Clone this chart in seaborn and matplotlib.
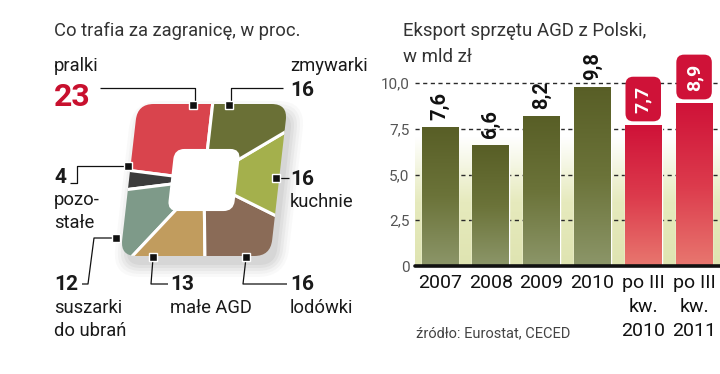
import numpy as np
import pandas as pd
import matplotlib
matplotlib.use('Agg')
import matplotlib.pyplot as plt
import seaborn as sns
from matplotlib.patches import FancyBboxPatch
from matplotlib.transforms import Affine2D
from matplotlib.colors import LinearSegmentedColormap

# ---------------- data ----------------
share_labels = ['pralki', 'pozo-\nstałe', 'suszarki\ndo ubrań', 'małe AGD', 'lodówki', 'kuchnie', 'zmywarki']
share_values = [23, 4, 12, 13, 16, 16, 16]
share_colors = ['#d9444d', '#3b3b3b', '#7e9a89', '#c19c5e', '#8a6b57', '#a4b04c', '#6a7036']

years = ['2007', '2008', '2009', '2010', 'po III\nkw.\n2010', 'po III\nkw.\n2011']
export_values = [7.6, 6.6, 8.2, 9.8, 7.7, 8.9]
value_labels = ['7,6', '6,6', '8,2', '9,8', '7,7', '8,9']
bar_groups = ['olive', 'olive', 'olive', 'olive', 'red', 'red']
yticks = [0, 2.5, 5, 7.5, 10]
ytick_labels = ['0', '2,5', '5,0', '7,5', '10,0']

sns.set_theme(style='white')
plt.rcParams['font.family'] = ['Roboto', 'DejaVu Sans']

W, H = 720, 374
fig = plt.figure(figsize=(7.2, 3.74), dpi=100)

def Y(y):
    return H - y

# ---------------- overlay axes (pixel coords) ----------------
ov = fig.add_axes([0, 0, 1, 1])
cx, cy = 204, Y(180)
skewT = Affine2D().translate(-cx, -cy).skew_deg(6.5, 0).translate(cx, cy) + ov.transData

# shadow
for i, (g, a) in enumerate([(12, 0.03), (9, 0.04), (6, 0.05), (3, 0.06), (0, 0.07)]):
    sh = FancyBboxPatch((cx - 75 - g + 6, cy - 76 - g - 9), 150 + 2 * g, 152 + 2 * g,
                        boxstyle='round,pad=0,rounding_size=%d' % (16 + g),
                        transform=skewT, facecolor='#555555', edgecolor='none', alpha=a, zorder=1)
    ov.add_patch(sh)

wedges, _ = ov.pie(share_values, colors=share_colors, startangle=90, counterclock=True,
                   center=(cx, cy), radius=140,
                   wedgeprops=dict(edgecolor='white', linewidth=2.2))
outer = FancyBboxPatch((cx - 75, cy - 76), 150, 152, boxstyle='round,pad=0,rounding_size=16',
                       transform=skewT, facecolor='none', edgecolor='none')
ov.add_patch(outer)
for w in wedges:
    w.set_transform(skewT)
    w.set_clip_on(True)
    w.set_clip_path(outer)
    w.set_zorder(2)

hole = FancyBboxPatch((cx - 32, cy - 30), 64, 60, boxstyle='round,pad=0,rounding_size=9',
                      transform=skewT, facecolor='white', edgecolor='white', linewidth=1.5, zorder=3)
ov.add_patch(hole)

ov.set_xlim(0, W)
ov.set_ylim(0, H)
ov.set_aspect('auto')
ov.axis('off')

# leader lines + markers (pixel coordinates, y from top)
leaders = [
    ([(100, 88), (195, 88), (195, 104)], (193, 105)),
    ([(283, 88), (231, 88), (231, 104)], (229, 105)),
    ([(70, 183), (77, 183), (77, 166), (126, 166)], (128, 166)),
    ([(278, 178), (289, 178)], (276, 178)),
    ([(82, 284), (88, 284), (94, 238), (114, 238)], (116, 238)),
    ([(153, 258), (151, 284), (168, 284)], (153, 257)),
    ([(246, 258), (243, 284), (287, 284)], (246, 257)),
]
for pts, mk in leaders:
    xs = [p[0] for p in pts]
    ys = [Y(p[1]) for p in pts]
    ov.plot(xs, ys, color='#111111', lw=0.9, zorder=5, solid_capstyle='butt')
    ov.plot([mk[0]], [Y(mk[1])], marker='s', ms=5.2, color='#111111',
            mec='white', mew=1.0, zorder=6)

def txt(x, y, s, size=13, weight='normal', color='#1a1a1a'):
    ov.text(x, Y(y), s, fontsize=size, fontweight=weight, color=color,
            ha='left', va='baseline', zorder=7)

txt(54, 36, 'Co trafia za zagranicę, w proc.', 13.2, color='#333333')
txt(54, 71, share_labels[0], 13.2)
txt(54, 106, str(share_values[0]), 23, 'bold', '#c8102e')
txt(290, 71, share_labels[6], 13.2)
txt(290, 96, str(share_values[6]), 15, 'bold')
txt(54, 183, str(share_values[1]), 15, 'bold')
for k, line in enumerate(share_labels[1].split('\n')):
    txt(54, 205 + 23 * k, line, 13.2)
txt(290, 185, str(share_values[5]), 15, 'bold')
txt(290, 207, share_labels[5], 13.2)
txt(54, 290, str(share_values[2]), 15, 'bold')
for k, line in enumerate(share_labels[2].split('\n')):
    txt(54, 313 + 23 * k, line, 13.2)
txt(170, 290, str(share_values[3]), 15, 'bold')
txt(170, 313, share_labels[3], 13.2)
txt(290, 290, str(share_values[4]), 15, 'bold')
txt(290, 313, share_labels[4], 13.2)

# right title + source
txt(403, 36, 'Eksport sprzętu AGD z Polski,', 13.4, color='#333333')
txt(403, 62, 'w mld zł', 13.4, color='#333333')
txt(416, 337, 'źródło: Eurostat, CECED', 10.5, color='#444444')

# ---------------- bar chart ----------------
ytop = 10.5
ax = fig.add_axes([415 / W, (H - 266) / H, 305 / W, (ytop * 18.3) / H])
df = pd.DataFrame({'rok': years, 'wartosc': export_values, 'grupa': bar_groups})
sns.barplot(data=df, x='rok', y='wartosc', hue='grupa',
            palette={'olive': '#6f7741', 'red': '#dc3b50'}, dodge=False,
            width=0.72, saturation=1, legend=False, ax=ax, zorder=2)

x0, x1 = -0.49, 5.51
# background gradient
bg = LinearSegmentedColormap.from_list('bg', ['#ffffff', '#ffffff', '#e6eabd', '#dfe4b1'])
grad = np.linspace(0, 1, 256).reshape(-1, 1)
ax.imshow(grad, extent=[x0, x1, 0, ytop], origin='upper', cmap=bg, aspect='auto', zorder=0)

cm_olive = LinearSegmentedColormap.from_list('ol', ['#585e26', '#6b7339', '#8c9669'])
cm_red = LinearSegmentedColormap.from_list('rd', ['#cf1238', '#dc3a4c', '#e8776f'])
for p, g in zip(ax.patches, bar_groups):
    bx0 = p.get_x()
    bw = p.get_width()
    bh = p.get_height()
    im = ax.imshow(grad, extent=[bx0, bx0 + bw, 0, bh], origin='upper',
                   cmap=cm_olive if g == 'olive' else cm_red, aspect='auto', zorder=2.1)
    im.set_clip_path(p)

for yv in yticks[1:]:
    ax.axhline(yv, color='#2a2a2a', lw=1.0, ls=(0, (3, 2.5)), zorder=1.5)
ax.axhline(0, color='#111111', lw=2.6, zorder=4, clip_on=False)

for i, (v, lab, g) in enumerate(zip(export_values, value_labels, bar_groups)):
    if g == 'olive':
        ax.annotate(lab, (i, v), xytext=(0, 5), textcoords='offset points', rotation=90,
                    ha='center', va='bottom', fontsize=14.5, fontweight='bold', color='#111111',
                    zorder=5, annotation_clip=False)
    else:
        ax.annotate(lab, (i, v), xytext=(0, 9), textcoords='offset points', rotation=90,
                    ha='center', va='bottom', fontsize=14, fontweight='bold', color='white',
                    bbox=dict(boxstyle='round,pad=0.45,rounding_size=0.4', fc='#cf1238', ec='none'),
                    zorder=5, annotation_clip=False)

ax.set_xlim(x0, x1)
ax.set_ylim(0, ytop)
ax.set_yticks(yticks, ytick_labels)
ax.set_xlabel('')
ax.set_ylabel('')
ax.tick_params(axis='y', length=0, pad=4, labelsize=11, labelcolor='#555555')
ax.tick_params(axis='x', length=0, pad=6, labelsize=14, labelcolor='#111111')
for t in ax.get_xticklabels():
    t.set_linespacing(1.4)
for s in ax.spines.values():
    s.set_visible(False)
ax.grid(False)

fig.savefig('out.png', dpi=100)
